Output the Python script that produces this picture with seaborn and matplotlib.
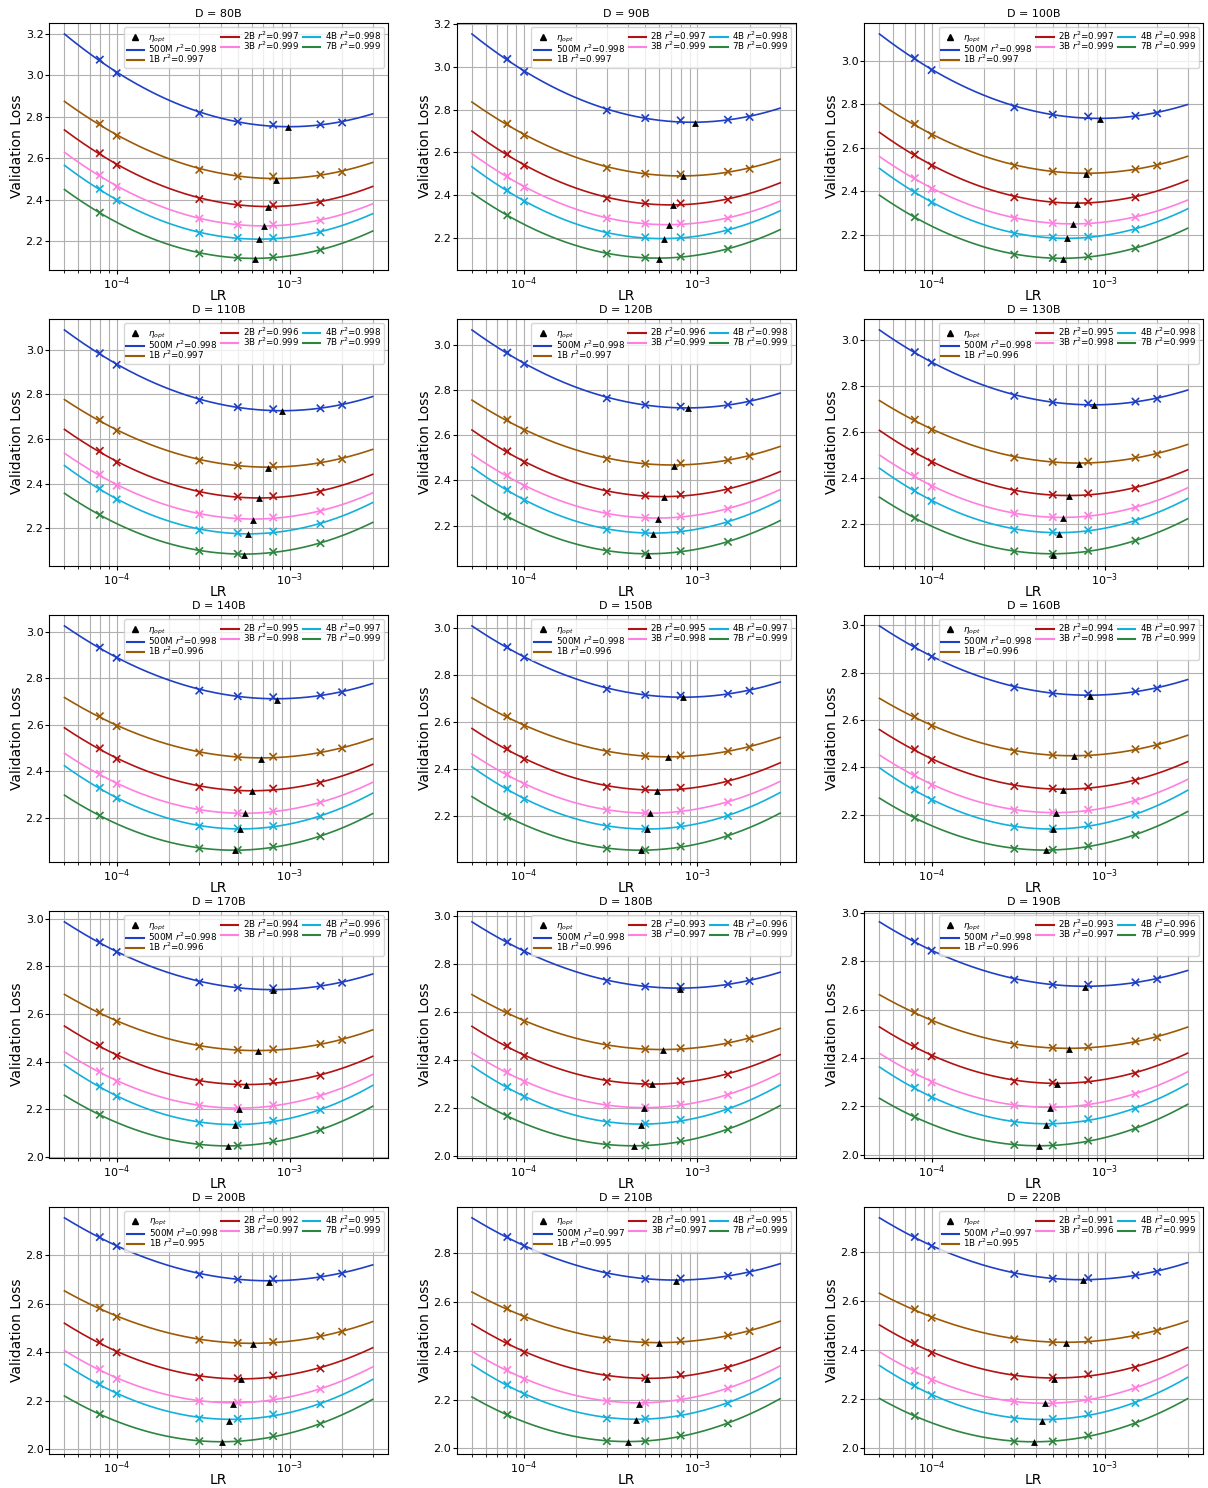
import numpy as np
import pandas as pd
import matplotlib
matplotlib.use("Agg")
import matplotlib.pyplot as plt
from matplotlib.lines import Line2D
import seaborn as sns

# Data
DATASETS = ["80B", "90B", "100B", "110B", "120B", "130B", "140B", "150B",
            "160B", "170B", "180B", "190B", "200B", "210B", "220B"]
MODELS = ["500M", "1B", "2B", "3B", "4B", "7B"]
COLORS = ["#1f3fc4", "#9c5a06", "#b01212", "#ff7fdf", "#12b0dc", "#2e8540"]

# LRs that were actually run, per model
LR_SMALL = [8e-5, 1e-4, 3e-4, 5e-4, 8e-4, 1.5e-3, 2e-3]   # 500M, 1B
LR_MID = [8e-5, 1e-4, 3e-4, 5e-4, 8e-4, 1.5e-3]          # 2B, 3B, 4B
LR_7B = [8e-5, 3e-4, 5e-4, 8e-4, 1.5e-3]                 # 7B
FIT_LR_MIN, FIT_LR_MAX = 5e-5, 3e-3

LOSS_500M = [
    [3.075, 3.010, 2.817, 2.776, 2.761, 2.763, 2.772],
    [3.038, 2.978, 2.797, 2.761, 2.750, 2.753, 2.766],
    [3.012, 2.957, 2.786, 2.753, 2.744, 2.747, 2.759],
    [2.985, 2.933, 2.774, 2.743, 2.734, 2.738, 2.753],
    [2.966, 2.916, 2.764, 2.735, 2.727, 2.735, 2.748],
    [2.946, 2.901, 2.756, 2.728, 2.723, 2.731, 2.743],
    [2.931, 2.887, 2.746, 2.722, 2.718, 2.725, 2.739],
    [2.920, 2.876, 2.741, 2.716, 2.713, 2.721, 2.734],
    [2.910, 2.868, 2.738, 2.713, 2.711, 2.721, 2.734],
    [2.901, 2.860, 2.733, 2.710, 2.708, 2.718, 2.731],
    [2.892, 2.852, 2.729, 2.706, 2.705, 2.716, 2.729],
    [2.882, 2.844, 2.724, 2.703, 2.703, 2.713, 2.726],
    [2.873, 2.836, 2.719, 2.699, 2.700, 2.710, 2.723],
    [2.867, 2.830, 2.715, 2.695, 2.697, 2.708, 2.721],
    [2.861, 2.824, 2.710, 2.691, 2.693, 2.705, 2.719],
]
LOSS_1B = [
    [2.766, 2.708, 2.544, 2.513, 2.512, 2.520, 2.533],
    [2.734, 2.680, 2.527, 2.500, 2.497, 2.509, 2.523],
    [2.710, 2.658, 2.518, 2.492, 2.490, 2.502, 2.519],
    [2.686, 2.637, 2.504, 2.481, 2.480, 2.496, 2.510],
    [2.669, 2.621, 2.495, 2.474, 2.476, 2.490, 2.508],
    [2.652, 2.608, 2.487, 2.469, 2.470, 2.487, 2.502],
    [2.636, 2.593, 2.480, 2.461, 2.462, 2.481, 2.498],
    [2.625, 2.584, 2.473, 2.456, 2.459, 2.477, 2.494],
    [2.615, 2.575, 2.468, 2.452, 2.455, 2.477, 2.493],
    [2.607, 2.568, 2.464, 2.449, 2.452, 2.474, 2.491],
    [2.599, 2.560, 2.460, 2.445, 2.449, 2.472, 2.489],
    [2.590, 2.553, 2.455, 2.442, 2.446, 2.469, 2.486],
    [2.582, 2.545, 2.451, 2.438, 2.442, 2.466, 2.484],
    [2.574, 2.538, 2.447, 2.435, 2.441, 2.463, 2.481],
    [2.566, 2.531, 2.443, 2.431, 2.439, 2.460, 2.477],
]
LOSS_2B = [
    [2.624, 2.567, 2.403, 2.378, 2.374, 2.387],
    [2.592, 2.538, 2.384, 2.362, 2.361, 2.378],
    [2.569, 2.518, 2.373, 2.354, 2.353, 2.373],
    [2.547, 2.495, 2.359, 2.342, 2.344, 2.363],
    [2.529, 2.480, 2.349, 2.333, 2.337, 2.359],
    [2.514, 2.467, 2.341, 2.326, 2.332, 2.354],
    [2.498, 2.452, 2.332, 2.319, 2.325, 2.349],
    [2.487, 2.442, 2.325, 2.314, 2.321, 2.346],
    [2.477, 2.432, 2.321, 2.311, 2.318, 2.344],
    [2.468, 2.424, 2.315, 2.307, 2.315, 2.341],
    [2.459, 2.416, 2.309, 2.302, 2.311, 2.339],
    [2.450, 2.407, 2.303, 2.298, 2.308, 2.336],
    [2.441, 2.399, 2.297, 2.293, 2.304, 2.333],
    [2.435, 2.393, 2.294, 2.290, 2.302, 2.330],
    [2.428, 2.387, 2.291, 2.287, 2.300, 2.327],
]
LOSS_3B = [
    [2.518, 2.462, 2.309, 2.279, 2.279, 2.300],
    [2.488, 2.436, 2.291, 2.266, 2.266, 2.291],
    [2.461, 2.412, 2.278, 2.255, 2.256, 2.282],
    [2.441, 2.391, 2.263, 2.245, 2.248, 2.276],
    [2.422, 2.374, 2.253, 2.235, 2.241, 2.274],
    [2.408, 2.361, 2.245, 2.229, 2.235, 2.270],
    [2.388, 2.345, 2.234, 2.220, 2.227, 2.265],
    [2.378, 2.335, 2.226, 2.214, 2.223, 2.260],
    [2.368, 2.325, 2.220, 2.210, 2.221, 2.259],
    [2.359, 2.316, 2.215, 2.206, 2.217, 2.256],
    [2.349, 2.308, 2.210, 2.202, 2.214, 2.254],
    [2.340, 2.299, 2.204, 2.197, 2.210, 2.251],
    [2.330, 2.290, 2.199, 2.193, 2.207, 2.248],
    [2.322, 2.283, 2.194, 2.188, 2.203, 2.246],
    [2.315, 2.276, 2.189, 2.182, 2.198, 2.244],
]
LOSS_4B = [
    [2.452, 2.396, 2.239, 2.216, 2.216, 2.243],
    [2.422, 2.370, 2.219, 2.202, 2.202, 2.234],
    [2.398, 2.350, 2.206, 2.189, 2.192, 2.227],
    [2.378, 2.329, 2.191, 2.179, 2.185, 2.219],
    [2.359, 2.312, 2.182, 2.169, 2.178, 2.215],
    [2.344, 2.299, 2.174, 2.164, 2.172, 2.212],
    [2.328, 2.283, 2.163, 2.154, 2.164, 2.206],
    [2.317, 2.272, 2.156, 2.147, 2.159, 2.201],
    [2.306, 2.262, 2.148, 2.142, 2.155, 2.200],
    [2.296, 2.254, 2.143, 2.138, 2.152, 2.197],
    [2.287, 2.246, 2.138, 2.134, 2.150, 2.193],
    [2.277, 2.237, 2.132, 2.130, 2.147, 2.190],
    [2.268, 2.229, 2.127, 2.126, 2.144, 2.186],
    [2.261, 2.222, 2.123, 2.122, 2.141, 2.185],
    [2.254, 2.215, 2.118, 2.118, 2.137, 2.183],
]
LOSS_7B = [
    [2.337, 2.141, 2.121, 2.123, 2.157],
    [2.305, 2.125, 2.106, 2.111, 2.147],
    [2.282, 2.110, 2.095, 2.102, 2.139],
    [2.260, 2.098, 2.085, 2.094, 2.133],
    [2.241, 2.087, 2.076, 2.087, 2.128],
    [2.225, 2.080, 2.069, 2.082, 2.126],
    [2.209, 2.068, 2.061, 2.075, 2.120],
    [2.198, 2.062, 2.056, 2.071, 2.116],
    [2.187, 2.056, 2.052, 2.068, 2.115],
    [2.177, 2.051, 2.047, 2.065, 2.113],
    [2.166, 2.045, 2.043, 2.062, 2.110],
    [2.156, 2.040, 2.038, 2.058, 2.108],
    [2.145, 2.034, 2.033, 2.055, 2.105],
    [2.138, 2.030, 2.030, 2.053, 2.103],
    [2.130, 2.026, 2.026, 2.050, 2.100],
]

# eta_opt markers (LR, loss) per model, one entry per dataset
OPT_LR_500M = [9.7e-4, 9.65e-4, 9.4e-4, 8.95e-4, 8.85e-4, 8.6e-4, 8.4e-4, 8.3e-4, 8.2e-4, 8.0e-4, 7.9e-4, 7.7e-4, 7.6e-4, 7.55e-4, 7.5e-4]
OPT_LR_1B = [8.3e-4, 8.2e-4, 7.8e-4, 7.5e-4, 7.3e-4, 7.1e-4, 6.84e-4, 6.75e-4, 6.66e-4, 6.5e-4, 6.35e-4, 6.2e-4, 6.1e-4, 6.0e-4, 5.94e-4]
OPT_LR_2B = [7.5e-4, 7.2e-4, 6.9e-4, 6.6e-4, 6.4e-4, 6.2e-4, 6.0e-4, 5.85e-4, 5.75e-4, 5.6e-4, 5.45e-4, 5.3e-4, 5.2e-4, 5.15e-4, 5.1e-4]
OPT_LR_3B = [7.1e-4, 6.85e-4, 6.5e-4, 6.15e-4, 5.96e-4, 5.75e-4, 5.5e-4, 5.35e-4, 5.2e-4, 5.05e-4, 4.9e-4, 4.8e-4, 4.67e-4, 4.6e-4, 4.5e-4]
OPT_LR_4B = [6.6e-4, 6.4e-4, 6.04e-4, 5.7e-4, 5.57e-4, 5.4e-4, 5.17e-4, 5.1e-4, 5.0e-4, 4.85e-4, 4.7e-4, 4.6e-4, 4.47e-4, 4.4e-4, 4.35e-4]
OPT_LR_7B = [6.25e-4, 6.0e-4, 5.7e-4, 5.4e-4, 5.2e-4, 5.03e-4, 4.8e-4, 4.7e-4, 4.56e-4, 4.4e-4, 4.3e-4, 4.15e-4, 4.05e-4, 3.95e-4, 3.9e-4]

OPT_LOSS_500M = [2.750, 2.739, 2.733, 2.725, 2.719, 2.714, 2.706, 2.706, 2.703, 2.699, 2.696, 2.692, 2.688, 2.687, 2.685]
OPT_LOSS_1B = [2.497, 2.488, 2.478, 2.472, 2.465, 2.461, 2.454, 2.451, 2.448, 2.444, 2.441, 2.438, 2.434, 2.431, 2.428]
OPT_LOSS_2B = [2.364, 2.353, 2.344, 2.335, 2.327, 2.322, 2.315, 2.308, 2.306, 2.302, 2.298, 2.294, 2.290, 2.285, 2.281]
OPT_LOSS_3B = [2.272, 2.258, 2.249, 2.239, 2.231, 2.225, 2.219, 2.213, 2.207, 2.202, 2.198, 2.193, 2.188, 2.184, 2.181]
OPT_LOSS_4B = [2.208, 2.194, 2.185, 2.175, 2.163, 2.156, 2.150, 2.145, 2.141, 2.136, 2.130, 2.124, 2.119, 2.115, 2.111]
OPT_LOSS_7B = [2.116, 2.102, 2.092, 2.082, 2.072, 2.066, 2.059, 2.054, 2.049, 2.044, 2.039, 2.034, 2.029, 2.025, 2.022]

# r^2 of each fit, as printed in the legends
R2_500M = [0.998] * 13 + [0.997, 0.997]
R2_1B = [0.997] * 5 + [0.996] * 7 + [0.995] * 3
R2_2B = [0.997, 0.997, 0.997, 0.996, 0.996, 0.995, 0.995, 0.995, 0.994, 0.994, 0.993, 0.993, 0.992, 0.991, 0.991]
R2_3B = [0.999] * 5 + [0.998] * 5 + [0.997] * 4 + [0.996]
R2_4B = [0.998] * 6 + [0.997] * 3 + [0.996] * 3 + [0.995] * 3
R2_7B = [0.999] * 15

LR_BY_MODEL = [LR_SMALL, LR_SMALL, LR_MID, LR_MID, LR_MID, LR_7B]
LOSS_BY_MODEL = [LOSS_500M, LOSS_1B, LOSS_2B, LOSS_3B, LOSS_4B, LOSS_7B]
OPT_LR_BY_MODEL = [OPT_LR_500M, OPT_LR_1B, OPT_LR_2B, OPT_LR_3B, OPT_LR_4B, OPT_LR_7B]
OPT_LOSS_BY_MODEL = [OPT_LOSS_500M, OPT_LOSS_1B, OPT_LOSS_2B, OPT_LOSS_3B, OPT_LOSS_4B, OPT_LOSS_7B]
R2_BY_MODEL = [R2_500M, R2_1B, R2_2B, R2_3B, R2_4B, R2_7B]

palette = dict(zip(MODELS, COLORS))
lr_grid = np.logspace(np.log10(FIT_LR_MIN), np.log10(FIT_LR_MAX), 200)

fig, axes = plt.subplots(5, 3, figsize=(12.08, 14.88), dpi=100)
fig.subplots_adjust(left=0.0406, right=0.9959, top=0.9847, bottom=0.0231,
                    wspace=0.202, hspace=0.198)

for d, (ds, ax) in enumerate(zip(DATASETS, axes.flat)):
    pts, curves, opts = [], [], []
    for m, model in enumerate(MODELS):
        lrs = np.array(LR_BY_MODEL[m])
        loss = np.array(LOSS_BY_MODEL[m][d])
        # quadratic fit in log10(LR)
        coef = np.polyfit(np.log10(lrs), loss, 2)
        curves.append(pd.DataFrame({"lr": lr_grid, "loss": np.polyval(coef, np.log10(lr_grid)),
                                    "model": model}))
        pts.append(pd.DataFrame({"lr": lrs, "loss": loss, "model": model}))
        opts.append((OPT_LR_BY_MODEL[m][d], OPT_LOSS_BY_MODEL[m][d]))
    curve_df = pd.concat(curves)
    pts_df = pd.concat(pts)
    opt_df = pd.DataFrame(opts, columns=["lr", "loss"])

    sns.lineplot(data=curve_df, x="lr", y="loss", hue="model", palette=palette,
                 linewidth=1.2, legend=False, ax=ax, zorder=2)
    sns.scatterplot(data=pts_df, x="lr", y="loss", hue="model", palette=palette,
                    marker="x", s=28, linewidth=1.2, legend=False, ax=ax, zorder=3)
    sns.scatterplot(data=opt_df, x="lr", y="loss", color="black", marker="^",
                    s=24, linewidth=0, legend=False, ax=ax, zorder=4)

    ax.set_xscale("log")
    ax.grid(True, which="both", color="#b0b0b0", linewidth=0.8)
    ax.set_axisbelow(True)
    ax.set_title(f"D = {ds}", fontsize=8, pad=4)
    ax.set_xlabel("LR", fontsize=10, labelpad=-2)
    ax.set_ylabel("Validation Loss", fontsize=10, labelpad=1)
    ax.tick_params(labelsize=8, length=3, pad=1)
    ax.tick_params(which="minor", length=2)

    handles = [Line2D([], [], marker="^", color="black", linestyle="none",
                      markersize=5, label=r"$\eta_{opt}$")]
    for m, model in enumerate(MODELS):
        handles.append(Line2D([], [], color=COLORS[m], linewidth=1.5,
                              label=f"{model} $r^2$={R2_BY_MODEL[m][d]:.3f}"))
    ax.legend(handles=handles, ncol=3, loc="upper right", fontsize=6.3,
              labelspacing=-0.25, columnspacing=0.4, handletextpad=0.5,
              borderpad=0.3, handlelength=2.0)

fig.savefig("out.png", dpi=100)
